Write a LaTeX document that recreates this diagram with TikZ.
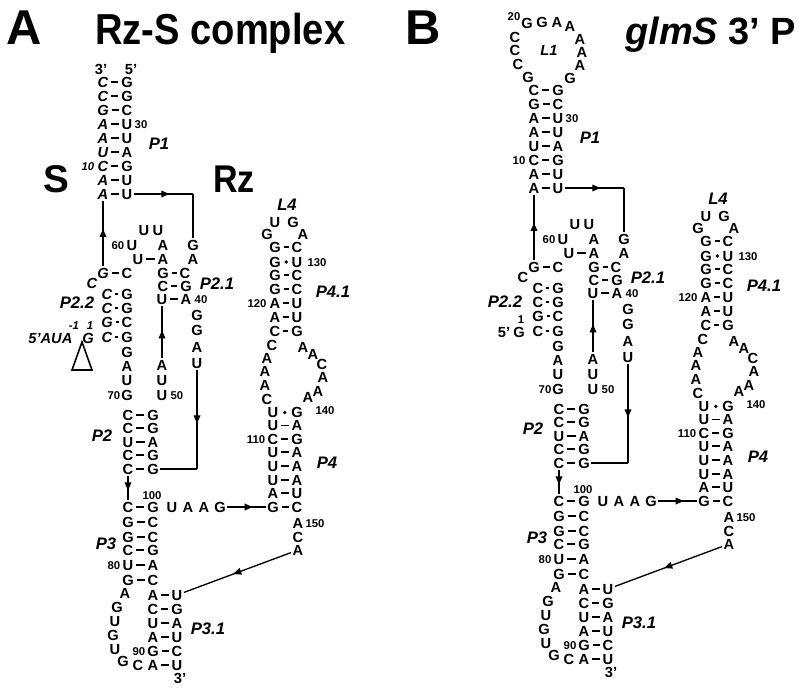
\documentclass[tikz,border=0pt]{standalone}
\usepackage{fontspec}
\setmainfont{Liberation Sans}
\newfontfamily\condfont[FakeStretch=0.88]{Liberation Sans}
\usetikzlibrary{arrows.meta,decorations.markings}
\tikzset{
  nt/.style={font=\fontsize{11}{12}\selectfont\bfseries, inner sep=0pt, outer sep=1.2pt, text height=7.9pt, text depth=0pt},
  sstrand/.style={},
  snum/.style={},
  num/.style={font=\fontsize{8.5}{10}\selectfont\bfseries, inner sep=0pt, text height=6.1pt, text depth=0pt},
  lab/.style={font=\fontsize{12.5}{14}\selectfont\bfseries\itshape, inner sep=0pt, text height=9pt, text depth=0pt},
  bond/.style={line width=1.1pt, shorten >=1pt, shorten <=1pt},
  wdot/.style={circle, fill, inner sep=0pt, minimum size=2.8pt},
  conn/.style={line width=1pt},
  midarrow/.style={postaction={decorate}, decoration={markings, mark=at position #1 with {\arrow{Triangle[length=6pt,width=5pt]}}}},
  ttl/.style={inner sep=0pt, anchor=base west},
}
\newcommand\nuc[4][]{\node[nt,#1] (#2) at (#3) {#4};}
\newcommand\bpair[2]{\draw[bond] (#1) -- (#2);}
\newcommand\wobble[2]{\path (#1) -- node[wdot]{} (#2);}
\newcommand\shared[1]{%
% P1
\nuc[sstrand]{#1-s96}{103,96}{C}\nuc{#1-r96}{127,96}{G}
\nuc[sstrand]{#1-s110}{103,110}{G}\nuc{#1-r110}{127,110}{C}
\nuc[sstrand]{#1-s124}{103,124}{A}\nuc{#1-r124}{127,124}{U}
\nuc[sstrand]{#1-s138}{103,138}{A}\nuc{#1-r138}{127,138}{U}
\nuc[sstrand]{#1-s152}{103,152}{U}\nuc{#1-r152}{127,152}{A}
\nuc[sstrand]{#1-s166}{103,166}{C}\nuc{#1-r166}{127,166}{G}
\nuc[sstrand]{#1-s180}{103,180}{A}\nuc{#1-r180}{127,180}{U}
\nuc[sstrand]{#1-s194}{103,194}{A}\nuc{#1-r194}{127,194}{U}
\foreach \y in {96,110,...,194}{\bpair{#1-s\y}{#1-r\y}}
\node[num] (#1-n30) at (141,124) {30};
\node[num,snum] (#1-n10) at (88,166) {10};
\node[lab] (#1-P1) at (159,144) {P1};
% P2.2
\nuc[sstrand]{#1-s272}{103,273}{G}\nuc{#1-r272}{127,273}{C}
\nuc[sstrand]{#1-sb}{92,283}{C}
\nuc[sstrand]{#1-s293}{107,294}{C}\nuc{#1-r293}{127,294}{G}
\nuc[sstrand]{#1-s307}{107,308}{C}\nuc{#1-r307}{127,308}{G}
\nuc[sstrand]{#1-s322}{107,322}{G}\nuc{#1-r322}{127,322}{C}
\nuc[sstrand]{#1-s337}{107,337}{C}\nuc{#1-r337}{127,337}{G}
\foreach \y in {272,293,307,322,337}{\bpair{#1-s\y}{#1-r\y}}
\nuc[sstrand]{#1-g1}{88,338}{G}
\node[num,snum] (#1-n1) at (90,325) {1};
\nuc{#1-r352}{127,352}{G}
\nuc{#1-r366}{127,366}{A}
\nuc{#1-r380}{127,380}{U}
\nuc{#1-r395}{127,395}{G}
\node[num] (#1-n70) at (114,395) {70};
% P2.1
\nuc{#1-t1}{144,230}{U}\nuc{#1-t2}{158,230}{U}
\nuc{#1-u60}{132,245}{U}\node[num] (#1-n60) at (118,245) {60};
\nuc{#1-a245}{163,245}{A}
\nuc{#1-g245}{193,245}{G}
\nuc{#1-u260}{138,259}{U}\nuc{#1-a260}{163,259}{A}\bpair{#1-u260}{#1-a260}
\nuc{#1-a260r}{193,259}{A}
\nuc{#1-m272}{163,273}{G}\nuc{#1-q272}{185,273}{C}
\nuc{#1-m285}{163,286}{C}\nuc{#1-q285}{186,286}{G}
\nuc{#1-m299}{162,299}{U}\nuc{#1-q299}{186,299}{A}
\foreach \y in {272,285,299}{\bpair{#1-m\y}{#1-q\y}}
\node[num] (#1-n40) at (201,299) {40};
\node[lab] (#1-P21) at (217,284) {P2.1};
\nuc{#1-g315}{197,315}{G}
\nuc{#1-g330}{197,330}{G}
\nuc{#1-a347}{197,347}{A}
\nuc{#1-u363}{197,363}{U}
\nuc{#1-a365}{162,365}{A}
\nuc{#1-u380}{162,380}{U}
\nuc{#1-u395}{162,395}{U}
\node[num] (#1-n50) at (177,395) {50};
% P2
\nuc{#1-l415}{128,415}{C}\nuc{#1-k415}{153,415}{G}
\nuc{#1-l428}{128,428}{C}\nuc{#1-k428}{153,428}{G}
\nuc{#1-l442}{128,442}{U}\nuc{#1-k442}{153,442}{A}
\nuc{#1-l455}{128,455}{C}\nuc{#1-k455}{153,455}{G}
\nuc{#1-l469}{128,469}{C}\nuc{#1-k469}{153,469}{G}
\foreach \y in {415,428,442,455,469}{\bpair{#1-l\y}{#1-k\y}}
\node[lab] (#1-P2) at (102,435) {P2};
% P3
\nuc{#1-l507}{128,507}{C}\nuc{#1-k507}{153,507}{G}
\nuc{#1-l522}{128,522}{G}\nuc{#1-k522}{153,522}{C}
\nuc{#1-l537}{128,537}{G}\nuc{#1-k537}{153,537}{C}
\nuc{#1-l550}{128,550}{C}\nuc{#1-k550}{153,550}{G}
\nuc{#1-l565}{128,565}{U}\nuc{#1-k565}{153,565}{A}
\nuc{#1-l580}{128,580}{G}\nuc{#1-k580}{153,580}{C}
\foreach \y in {507,522,537,550,565,580}{\bpair{#1-l\y}{#1-k\y}}
\node[num] (#1-n100) at (152,495) {100};
\node[num] (#1-n80) at (114,565) {80};
\node[lab] (#1-P3) at (106,543) {P3};
\nuc{#1-j1}{172,507}{U}\nuc{#1-j2}{188,507}{A}\nuc{#1-j3}{204,507}{A}\nuc{#1-j4}{220,507}{G}
% P3 loop
\nuc{#1-o1}{125,593}{A}\nuc{#1-o2}{117,607}{G}\nuc{#1-o3}{115,621}{U}\nuc{#1-o4}{113,635}{G}
\nuc{#1-o5}{115,649}{U}\nuc{#1-o6}{123,661}{G}\nuc{#1-o7}{138,665}{C}
% P3.1
\nuc{#1-v595}{153,595}{A}\nuc{#1-w595}{177,595}{U}
\nuc{#1-v609}{153,609}{C}\nuc{#1-w609}{177,609}{G}
\nuc{#1-v623}{153,623}{U}\nuc{#1-w623}{177,623}{A}
\nuc{#1-v637}{153,637}{A}\nuc{#1-w637}{177,637}{U}
\nuc{#1-v651}{153,651}{G}\nuc{#1-w651}{177,651}{C}
\nuc{#1-v665}{153,665}{A}\nuc{#1-w665}{177,665}{U}
\foreach \y in {595,609,623,637,651,665}{\bpair{#1-v\y}{#1-w\y}}
\node[num] (#1-n90) at (139,651) {90};
\nuc{#1-3end}{180,678}{3'}
\node[lab] (#1-P31) at (208,628) {P3.1};
% L4 / P4.1
\node[lab] (#1-L4) at (287,205) {L4};
\nuc{#1-h1}{275,222}{U}\nuc{#1-h2}{293,222}{G}\nuc{#1-h0}{267,234}{G}\nuc{#1-h3}{303,234}{A}
\nuc{#1-e247}{275,247}{G}\nuc{#1-f247}{297,247}{C}
\nuc{#1-e262}{275,262}{G}\nuc{#1-f262}{297,262}{U}
\nuc{#1-e275}{275,275}{G}\nuc{#1-f275}{297,275}{C}
\nuc{#1-e289}{275,289}{G}\nuc{#1-f289}{297,289}{C}
\nuc{#1-e303}{275,303}{A}\nuc{#1-f303}{297,303}{U}
\nuc{#1-e317}{275,317}{A}\nuc{#1-f317}{297,317}{U}
\nuc{#1-e331}{275,331}{C}\nuc{#1-f331}{297,331}{G}
\foreach \y in {247,275,289,303,317,331}{\bpair{#1-e\y}{#1-f\y}}
\wobble{#1-e262}{#1-f262}
\node[num] (#1-n130) at (317,262) {130};
\node[num] (#1-n120) at (257,303) {120};
\node[lab] (#1-P41) at (333,292) {P4.1};
% internal loop
\nuc{#1-i1}{272,345}{C}\nuc{#1-i2}{267,358}{A}\nuc{#1-i3}{265,371.5}{A}\nuc{#1-i4}{265,385}{A}\nuc{#1-i5}{267,399}{C}
\nuc{#1-i6}{303,347}{A}\nuc{#1-i7}{313,354}{A}\nuc{#1-i8}{322,364}{C}\nuc{#1-i9}{323,377}{A}\nuc{#1-i10}{318,391}{A}\nuc{#1-i11}{308,397}{A}
\node[num] (#1-n140) at (325,410) {140};
% P4
\nuc{#1-e412}{273,412.5}{U}\nuc{#1-f412}{297,412.5}{G}
\nuc{#1-e425}{273,425.5}{U}\nuc{#1-f425}{297,425.5}{A}
\nuc{#1-e439}{273,439}{C}\nuc{#1-f439}{297,439}{G}
\nuc{#1-e452}{273,452}{U}\nuc{#1-f452}{297,452}{A}
\nuc{#1-e466}{273,466}{U}\nuc{#1-f466}{297,466}{A}
\nuc{#1-e480}{273,480}{U}\nuc{#1-f480}{297,480}{A}
\nuc{#1-e493}{273,493}{A}\nuc{#1-f493}{297,493}{U}
\nuc{#1-e507}{273,507}{G}\nuc{#1-f507}{297,507}{C}
\foreach \y in {425,439,452,466,480,493,507}{\bpair{#1-e\y}{#1-f\y}}
\wobble{#1-e412}{#1-f412}
\node[num] (#1-n110) at (256,439) {110};
\node[lab] (#1-P4) at (327,462) {P4};
\nuc{#1-x523}{298,523}{A}\node[num] (#1-n150) at (315,523) {150};
\nuc{#1-x537}{298,537}{C}
\nuc{#1-x550}{298,550}{A}
% connectors
\coordinate (#1-k1) at (193,194);
\draw[conn,midarrow=0.6] (#1-r194) -- (#1-k1);
\draw[conn] (#1-k1) -- (#1-g245);
\draw[conn,midarrow=0.57] (#1-s272) -- (#1-s194);
\draw[conn,midarrow=0.53] (#1-a365) -- (#1-m299);
\coordinate (#1-k2) at (197,469);
\draw[conn,midarrow=0.54] (#1-u363) -- (#1-k2);
\draw[conn] (#1-k2) -- (#1-k469);
\draw[conn,midarrow=0.6] (#1-l469) -- (#1-l507);
\draw[conn,midarrow=0.66] (#1-j4) -- (#1-e507);
\draw[conn,midarrow=0.54] (#1-x550) -- (#1-w595);
}
\begin{document}
\begin{tikzpicture}[x=0.75pt,y=-0.75pt]
\useasboundingbox (0,0) rectangle (800,695);
% ---------- panel A ----------
\node[ttl,font=\fontsize{36.7}{40}\selectfont\bfseries] (tA) at (6,45) {A};
\node[ttl,font=\condfont\fontsize{32.5}{36}\selectfont\bfseries] (tRzS) at (95,45) {Rz-S complex};
\node[ttl,font=\fontsize{29}{32}\selectfont\bfseries] (tS) at (43,193) {S};
\node[ttl,font=\condfont\fontsize{29}{32}\selectfont\bfseries] (tRz) at (213,193) {Rz};
\begin{scope}[sstrand/.style={font=\fontsize{11}{12}\selectfont\bfseries\itshape},
              snum/.style={font=\fontsize{8.5}{10}\selectfont\bfseries\itshape}]
\shared{a}
\nuc[sstrand]{a-s82}{103,82}{C}\nuc{a-r82}{127,82}{G}\bpair{a-s82}{a-r82}
\nuc{a-3p}{101,69}{3'}\nuc{a-5p}{131,69}{5'}
\node[nt,sstrand,anchor=east] (a-5end) at (74,338) {5'AUA};
\node[num,snum] (a-nm1) at (74,325) {-1};
\node[lab] (a-P22) at (77,303) {P2.2};
\draw[line width=1.2pt,fill=white,line join=miter] (82,342) -- (72,370) -- (92,370) -- cycle;
\end{scope}
% ---------- panel B ----------
\node[ttl,font=\fontsize{36.7}{40}\selectfont\bfseries] (tB) at (405,45) {B};
\node[ttl,font=\fontsize{28.5}{32}\selectfont\bfseries] (tglmS) at (625,45) {\itshape glmS\upshape{} 3’ P};
\begin{scope}[shift={(431,-6)}]
\shared{b}
\end{scope}
\nuc{b-l1}{528,77}{G}\nuc{b-l2}{518,64}{C}\nuc{b-l3}{515,50}{C}\nuc{b-l4}{515,37}{C}
\nuc{b-l5}{527,23}{G}\nuc{b-l6}{542,22}{G}\nuc{b-l7}{557,22}{A}\nuc{b-l8}{570,26}{A}
\nuc{b-l9}{580,39}{A}\nuc{b-l10}{582,52}{A}\nuc{b-l11}{580,65}{A}\nuc{b-l12}{570,78}{G}
\node[num] (b-n20) at (514,16) {20};
\node[lab,font=\fontsize{11}{13}\selectfont\bfseries\itshape] (b-L1) at (549,50) {L1};
\node[nt,anchor=east] (b-5p) at (b-g1.west) {5'};
\node[lab] (b-P22) at (505,302) {P2.2};
\end{tikzpicture}
\end{document}
